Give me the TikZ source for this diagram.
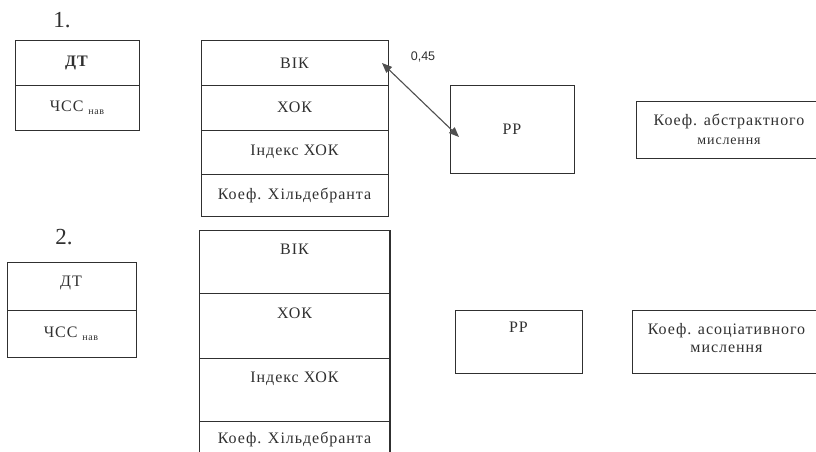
\documentclass[tikz,border=0pt]{standalone}
\usepackage{fontspec}
\setmainfont{Liberation Serif}[LetterSpace=6]
\newfontfamily\numfont{Liberation Sans}
\newfontfamily\plainserif{Liberation Serif}
\usetikzlibrary{arrows.meta}
\definecolor{ink}{HTML}{303030}
\tikzset{
  cell/.style={draw=ink, line width=1pt, rectangle, inner sep=0pt, outer sep=0pt, font=\fontsize{16}{18}\selectfont, text=ink},
  lbl/.style={inner sep=0pt, font=\fontsize{16}{18}\selectfont, text=ink, align=center},
  num/.style={inner sep=0pt, font=\plainserif\fontsize{23}{25}\selectfont, text=ink},
  link/.style={draw=ink!85, line width=1.1pt, <->, >={Triangle[length=10pt,width=8pt]}}
}
\newcommand{\nav}{\raisebox{-3pt}{\fontsize{10}{11}\selectfont нав}}
\begin{document}
\begin{tikzpicture}[x=1pt,y=-1pt]
\useasboundingbox (0,0) rectangle (816,452);
\fill[white] (0,0) rectangle (816,452);
\clip (0,0) rectangle (816,452);

% ---------- block 1 ----------
\node[num] (n1) at (62,20) {1.};

\node[cell, minimum width=124pt, minimum height=44pt] (dt1) at (77,63) {\textbf{ДТ}};
\node[cell, minimum width=124pt, minimum height=45pt] (hr1) at (77,107.5) {ЧСС \nav};

\node[cell, minimum width=187pt, minimum height=44pt] (vik1) at (294.5,63) {ВІК};
\node[cell, minimum width=187pt, minimum height=45pt] (hok1) at (294.5,107.5) {ХОК};
\node[cell, minimum width=187pt, minimum height=44pt] (ihok1) at (294.5,152) {Індекс ХОК};
\node[cell, minimum width=187pt, minimum height=42pt] (kh1) at (294.5,195) {Коеф. Хільдебранта};

\node[cell, minimum width=124pt, minimum height=88pt] (pr1) at (512,129) {РР};
\node[cell, minimum width=200pt, minimum height=57pt] (ka1) at (736,129.5) {};
\node[lbl] (ka1t) at (729,129) {Коеф. абстрактного\\[1pt]{\fontsize{14}{16}\selectfont мислення}};

\draw[link] ([xshift=-6pt]vik1.east) -- ([xshift=9pt,yshift=-8pt]pr1.west);
\node[inner sep=0pt, font=\numfont\fontsize{12.5}{14}\selectfont, text=ink] (r1) at (423,57) {0,45};

% ---------- block 2 ----------
\node[num] (n2) at (64,237) {2.};

\node[cell, minimum width=129pt, minimum height=48pt] (dt2) at (71.5,286) {};
\node[cell, minimum width=129pt, minimum height=47pt] (hr2) at (71.5,333.5) {};
\node[lbl] (dt2t) at (71,283) {ДТ};
\node[lbl] (hr2t) at (71,334) {ЧСС \nav};

\node[cell, minimum width=191pt, minimum height=63pt] (vik2) at (294.5,261.5) {};
\node[cell, minimum width=191pt, minimum height=65pt] (hok2) at (294.5,325.5) {};
\node[cell, minimum width=191pt, minimum height=63pt] (ihok2) at (294.5,389.5) {};
\node[cell, minimum width=191pt, minimum height=50pt] (kh2) at (294.5,446) {};
\draw[ink, line width=2.2pt] (vik2.north east) -- (kh2.south east);
\node[lbl] (vik2t) at (294.5,249) {ВІК};
\node[lbl] (hok2t) at (294.5,313) {ХОК};
\node[lbl] (ihok2t) at (294.5,379) {Індекс ХОК};
\node[lbl] (kh2t) at (294.5,439) {Коеф. Хільдебранта};

\node[cell, minimum width=127pt, minimum height=63pt] (pr2) at (518.5,341.5) {};
\node[lbl] (pr2t) at (518.5,327) {РР};
\node[cell, minimum width=200pt, minimum height=63pt] (ka2) at (732,341.5) {};
\node[lbl] (ka2t) at (726.5,338.5) {Коеф. асоціативного\\мислення};
\end{tikzpicture}
\end{document}
